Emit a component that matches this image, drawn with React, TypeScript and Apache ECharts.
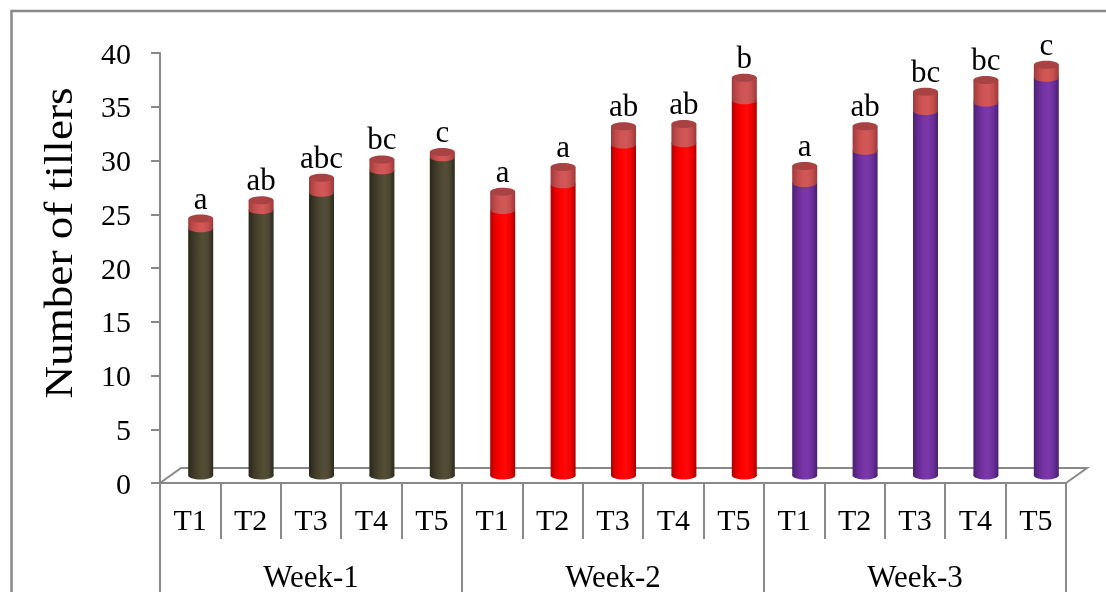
import React, { useEffect, useRef } from "react";
import * as echarts from "echarts";

// Treatments within each week and the week groups
const treatments = ["T1", "T2", "T3", "T4", "T5"];
const weeks = ["Week-1", "Week-2", "Week-3"];

// Mean number of tillers per treatment
const week1Means = [23.0, 24.7, 26.3, 28.4, 29.6];
const week2Means = [24.7, 27.1, 30.8, 30.9, 34.9];
const week3Means = [27.2, 30.2, 33.9, 34.7, 37.0];

// Standard error stacked on top of each mean
const week1Errors = [0.9, 0.9, 1.4, 1.0, 0.5];
const week2Errors = [1.7, 1.6, 1.7, 1.8, 2.1];
const week3Errors = [1.6, 2.3, 1.8, 2.1, 1.2];

// Significance letters above each bar
const week1Letters = ["a", "ab", "abc", "bc", "c"];
const week2Letters = ["a", "a", "ab", "ab", "b"];
const week3Letters = ["a", "ab", "bc", "bc", "c"];

// Value axis
const yMin = 0;
const yMax = 40;
const yInterval = 5;

const FONT = "serif";
const GREY = "#898989";
const DEPTH_X = 21;
const DEPTH_Y = -15;
const BAR_W = 25;
const RY = 4;

const hGrad = (stops: string[]) => ({
  type: "linear",
  x: 0,
  y: 0,
  x2: 1,
  y2: 0,
  colorStops: stops.map((c, i) => ({ offset: i / (stops.length - 1), color: c })),
});

const bodyColors = [
  ["#2a2719", "#3d3826", "#4b452f", "#554e37", "#4d4731", "#2c291b"],
  ["#b00000", "#e60000", "#ff0000", "#ff0a0a", "#f00000", "#a80000"],
  ["#4c2070", "#652a92", "#7634a6", "#7a38aa", "#6a2e9a", "#4a1f6c"],
];
const capColors = ["#9e3b3b", "#c04a4a", "#cf5555", "#d25858", "#c44d4d", "#9a3939"];
const capTop = "#a94242";

export default function App() {
  const ref = useRef<HTMLDivElement>(null);

  useEffect(() => {
    if (!ref.current) return;
    const chart = echarts.init(ref.current, undefined, { renderer: "svg" });

    const categories = weeks.flatMap(() => treatments);
    const means = [week1Means, week2Means, week3Means];
    const errors = [week1Errors, week2Errors, week3Errors];
    const letters = [...week1Letters, ...week2Letters, ...week3Letters];
    const barData: number[][] = [];
    means.forEach((arr, w) =>
      arr.forEach((m, t) => barData.push([w * treatments.length + t, m, errors[w][t], w]))
    );

    const option: any = {
      animation: false,
      grid: { left: 160, right: 40, top: 53, bottom: 108, containLabel: false },
      graphic: [
        {
          type: "polyline",
          shape: { points: [[11.5, 592], [11.5, 11], [1106, 11]] },
          style: { stroke: GREY, lineWidth: 2.5, fill: "none" },
        },
        {
          type: "text",
          x: 58,
          y: 243,
          rotation: Math.PI / 2,
          scaleX: 1.13,
          style: {
            text: "Number of tillers",
            fontSize: 40,
            fontFamily: FONT,
            fill: "#000",
            align: "center",
            verticalAlign: "middle",
          },
        },
      ],
      xAxis: [
        {
          type: "category",
          data: categories,
          position: "bottom",
          axisLine: { show: true, lineStyle: { color: GREY, width: 2 } },
          axisTick: { show: true, length: 56, interval: 0, lineStyle: { color: GREY, width: 2 } },
          axisLabel: { interval: 0, margin: 21, fontSize: 30, fontFamily: FONT, color: "#000" },
          splitLine: { show: false },
        },
        {
          type: "category",
          data: weeks,
          position: "bottom",
          offset: 0,
          axisLine: { show: false },
          axisTick: { show: true, length: 110, interval: 0, lineStyle: { color: GREY, width: 2 } },
          axisLabel: { interval: 0, margin: 78, fontSize: 31, fontFamily: FONT, color: "#000" },
          splitLine: { show: false },
        },
      ],
      yAxis: {
        type: "value",
        min: yMin,
        max: yMax,
        interval: yInterval,
        axisLine: { show: true, lineStyle: { color: GREY, width: 2 } },
        axisTick: { show: true, length: 9, lineStyle: { color: GREY, width: 2 } },
        axisLabel: { margin: 29, fontSize: 30, fontFamily: FONT, color: "#000" },
        splitLine: { show: false },
      },
      series: [
        {
          // floor of the 3-D plot area
          type: "custom",
          xAxisIndex: 0,
          data: [[0, 0]],
          renderItem: (params: any, api: any) => {
            const band = api.size([1, 0])[0];
            const first = api.coord([0, 0]);
            const last = api.coord([categories.length - 1, 0]);
            const left = first[0] - band / 2;
            const right = last[0] + band / 2;
            const y = first[1];
            return {
              type: "polyline",
              shape: {
                points: [
                  [left, y],
                  [left + DEPTH_X, y + DEPTH_Y],
                  [right + DEPTH_X, y + DEPTH_Y],
                  [right, y],
                ],
              },
              style: { stroke: GREY, lineWidth: 2, fill: "none" },
            };
          },
        },
        {
          // cylinders: mean body with the error part stacked on top
          type: "custom",
          xAxisIndex: 0,
          data: barData,
          renderItem: (params: any, api: any) => {
            const idx = api.value(0);
            const mean = api.value(1);
            const err = api.value(2);
            const week = api.value(3);
            const base = api.coord([idx, 0]);
            const pm = api.coord([idx, mean]);
            const pt = api.coord([idx, mean + err]);
            const cx = base[0] + DEPTH_X / 2;
            const dy = DEPTH_Y / 2;
            const y0 = base[1] + dy;
            const ym = pm[1] + dy;
            const yt = pt[1] + dy;
            const rx = BAR_W / 2;
            const body = hGrad(bodyColors[week]);
            const cap = hGrad(capColors);
            return {
              type: "group",
              children: [
                { type: "ellipse", shape: { cx, cy: y0, rx, ry: RY }, style: { fill: body } },
                { type: "rect", shape: { x: cx - rx, y: ym, width: BAR_W, height: y0 - ym }, style: { fill: body } },
                { type: "ellipse", shape: { cx, cy: ym, rx, ry: RY }, style: { fill: cap } },
                { type: "rect", shape: { x: cx - rx, y: yt, width: BAR_W, height: ym - yt }, style: { fill: cap } },
                { type: "ellipse", shape: { cx, cy: yt, rx, ry: RY }, style: { fill: capTop } },
                {
                  type: "text",
                  x: cx,
                  y: yt - RY - 1,
                  style: {
                    text: letters[params.dataIndex],
                    fontSize: 31,
                    fontFamily: FONT,
                    fill: "#000",
                    align: "center",
                    verticalAlign: "bottom",
                  },
                },
              ],
            };
          },
        },
      ],
    };

    chart.setOption(option);
    return () => chart.dispose();
  }, []);

  return <div ref={ref} style={{ position: "fixed", left: 0, top: 0, width: 1106, height: 592 }} />;
}
